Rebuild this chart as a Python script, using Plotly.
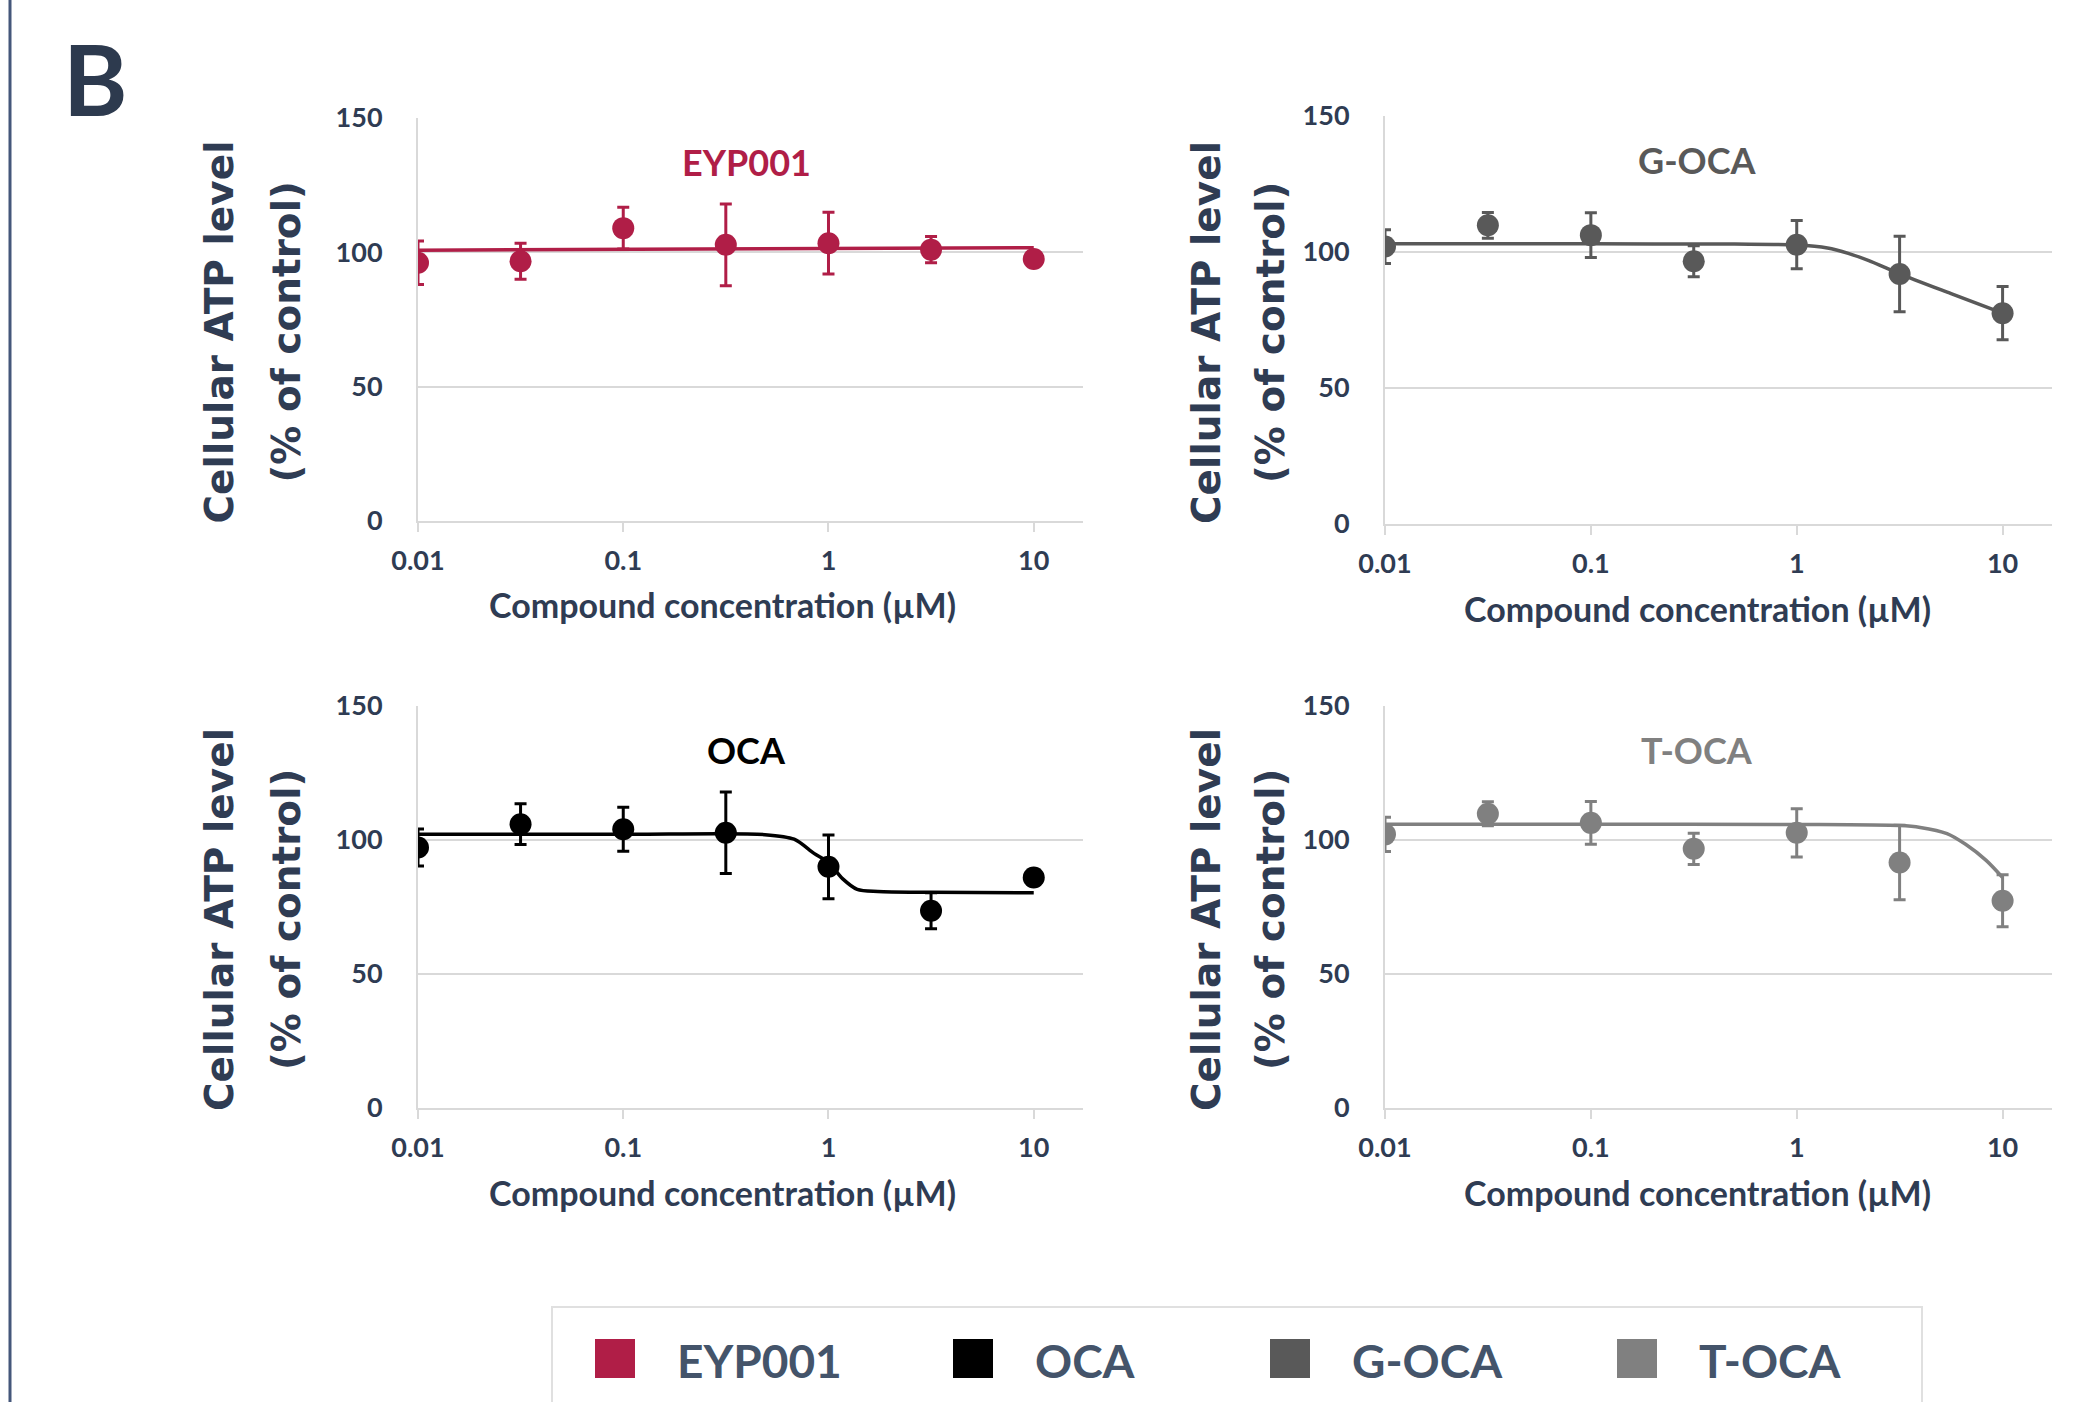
import plotly.graph_objects as go

W, H = 2096, 1402

# ---------------- data ----------------
conc = [0.01, 0.0316, 0.1, 0.316, 1, 3.16, 10]
tick_vals = [0.01, 0.1, 1, 10]
tick_text = ["0.01", "0.1", "1", "10"]

eyp_mean = [96.1, 96.7, 109.0, 102.8, 103.4, 101.0, 97.5]
eyp_err = [8.1, 6.7, 7.8, 15.2, 11.5, 4.9, 1.5]
eyp_fit_x = [0.01, 10]
eyp_fit_y = [100.8, 101.7]

goca_mean = [102.0, 109.8, 106.2, 96.6, 102.7, 91.9, 77.5]
goca_err = [6.2, 4.7, 8.2, 5.7, 8.9, 13.9, 9.8]
goca_fit_x = [0.01, 0.1, 0.5, 1.0, 1.41, 1.78, 2.24, 3.16, 5.62, 10]
goca_fit_y = [103.0, 103.0, 102.9, 102.6, 101.5, 99.5, 96.8, 92.0, 84.7, 77.5]

oca_mean = [97.2, 105.9, 104.0, 102.7, 90.0, 73.6, 86.0]
oca_err = [6.9, 7.6, 8.2, 15.2, 11.9, 6.7, 1.5]
oca_fit_x = [0.01, 0.1, 0.49, 0.68, 0.85, 1.0, 1.17, 1.38, 1.74, 3.16, 10]
oca_fit_y = [102.1, 102.1, 102.0, 100.3, 95.0, 91.6, 85.6, 81.6, 80.8, 80.5, 80.3]

toca_mean = [102.1, 109.8, 106.4, 96.7, 102.7, 91.6, 77.3]
toca_err = [6.4, 4.5, 8.0, 5.8, 9.0, 13.9, 9.7]
toca_fit_x = [0.01, 0.1, 1, 3.16, 3.98, 5.37, 6.61, 8.32, 10]
toca_fit_y = [105.9, 105.9, 105.8, 105.4, 104.7, 102.4, 98.4, 92.4, 86.0]

y_ticks = [0, 50, 100, 150]
legend_names = ["EYP001", "OCA", "G-OCA", "T-OCA"]
legend_colors = ["#B01E47", "#000000", "#595959", "#808080"]

x_title = "Compound concentration (µM)"
y_title_1 = "Cellular ATP level"
y_title_2 = "(% of control)"

# ---------------- styling ----------------
NAVY = "#2f3c53"
GRID = "#d9d9d9"
LBL_FONT = "Lato, Open Sans, sans-serif"
YT_FONT = "DejaVu Sans, Verdana, sans-serif"

def px(x):
    return x / W

def py(y):
    return 1 - y / H

panels = [
    ("EYP001", "#B01E47", eyp_mean, eyp_err, eyp_fit_x, eyp_fit_y, (418, 1083), (118, 521)),
    ("G-OCA", "#595959", goca_mean, goca_err, goca_fit_x, goca_fit_y, (1385, 2052), (116, 524)),
    ("OCA", "#000000", oca_mean, oca_err, oca_fit_x, oca_fit_y, (418, 1083), (706, 1108)),
    ("T-OCA", "#808080", toca_mean, toca_err, toca_fit_x, toca_fit_y, (1385, 2052), (706, 1108)),
]

fig = go.Figure()
annotations = []
shapes = []
layout_axes = {}

for i, (name, col, mean, err, fx, fy, xr, yr) in enumerate(panels):
    k = "" if i == 0 else str(i + 1)
    xa, ya = "x" + k, "y" + k
    fig.add_trace(go.Scatter(
        x=fx, y=fy, xaxis=xa, yaxis=ya, mode="lines",
        line=dict(color=col, width=3.5, shape="spline", smoothing=0.8),
        showlegend=False, hoverinfo="skip"))
    fig.add_trace(go.Scatter(
        x=conc, y=mean, xaxis=xa, yaxis=ya, mode="markers",
        marker=dict(color=col, size=22),
        error_y=dict(type="data", array=err, visible=True, color=col,
                     thickness=3, width=6),
        showlegend=False, name=name))

    layout_axes["xaxis" + k] = dict(
        type="log", range=[-2, 1.24], domain=[px(xr[0]), px(xr[1])],
        anchor=ya, tickvals=tick_vals, ticktext=tick_text, automargin=False,
        showgrid=False, zeroline=False, showline=True, linecolor=GRID,
        linewidth=2, ticks="outside", ticklen=9, tickwidth=2, tickcolor=GRID,
        ticklabelstandoff=6,
        tickfont=dict(family=LBL_FONT, size=27, color=NAVY, weight="bold"))
    layout_axes["yaxis" + k] = dict(
        range=[0, 150], domain=[py(yr[1]), py(yr[0])], anchor=xa,
        tickvals=y_ticks, showgrid=True, gridcolor=GRID, gridwidth=2,
        zeroline=False, showline=True, linecolor=GRID, linewidth=2,
        ticks="", ticklabelstandoff=28, automargin=False,
        tickfont=dict(family=LBL_FONT, size=27, color=NAVY, weight="bold"))

    left = xr[0] == 418
    tcx = 746 if left else 1697
    annotations.append(dict(
        x=px(tcx), y=py(yr[0] + 44), xref="paper", yref="paper",
        text=name, showarrow=False, xanchor="center", yanchor="middle",
        font=dict(family=LBL_FONT, size=36, color=col, weight="bold")))
    xcx = 722 if left else 1697
    annotations.append(dict(
        x=px(xcx), y=py(yr[1] + 84), xref="paper", yref="paper",
        text=x_title, showarrow=False, xanchor="center", yanchor="middle",
        font=dict(family=LBL_FONT, size=34, color=NAVY, weight="bold")))
    l1 = 219 if left else 1206
    l2 = 286 if left else 1270
    ymid = (yr[0] + yr[1]) / 2 + 13
    annotations.append(dict(
        x=px(l1), y=py(ymid), xref="paper", yref="paper", text=y_title_1,
        textangle=-90, showarrow=False, xanchor="center", yanchor="middle",
        font=dict(family=YT_FONT, size=39, color=NAVY, weight="bold")))
    annotations.append(dict(
        x=px(l2), y=py(ymid), xref="paper", yref="paper", text=y_title_2,
        textangle=-90, showarrow=False, xanchor="center", yanchor="middle",
        font=dict(family=YT_FONT, size=39, color=NAVY, weight="bold")))

annotations.append(dict(
    x=px(95), y=py(78), xref="paper", yref="paper", text="B", showarrow=False,
    xanchor="center", yanchor="middle",
    font=dict(family=LBL_FONT, size=98, color="#2d3a4e", weight="bold")))

shapes.append(dict(type="line", xref="paper", yref="paper",
                   x0=px(10), x1=px(10), y0=0, y1=1,
                   line=dict(color="#44577a", width=3)))

shapes.append(dict(type="rect", xref="paper", yref="paper",
                   x0=px(552), x1=px(1922), y0=py(1420), y1=py(1307),
                   line=dict(color="#e0e0e0", width=2), fillcolor="white"))
leg_sq_x = [595, 953, 1270, 1617]
for nm, colr, sx in zip(legend_names, legend_colors, leg_sq_x):
    shapes.append(dict(type="rect", xref="paper", yref="paper",
                       x0=px(sx), x1=px(sx + 40), y0=py(1378), y1=py(1339),
                       line=dict(width=0), fillcolor=colr))
    annotations.append(dict(
        x=px(sx + 80), y=py(1360), xref="paper", yref="paper", text=nm,
        showarrow=False, xanchor="left", yanchor="middle",
        font=dict(family=LBL_FONT, size=46, color="#44546a", weight="bold")))

fig.update_layout(
    width=W, height=H, autosize=False,
    margin=dict(l=0, r=0, t=0, b=0, pad=0, autoexpand=False),
    paper_bgcolor="white", plot_bgcolor="white",
    showlegend=False,
    annotations=annotations, shapes=shapes,
    **layout_axes)

fig.write_html(
    "out.html",
    config={"displayModeBar": False},
    post_script="document.body.style.margin='0px';document.body.style.overflow='hidden';")
